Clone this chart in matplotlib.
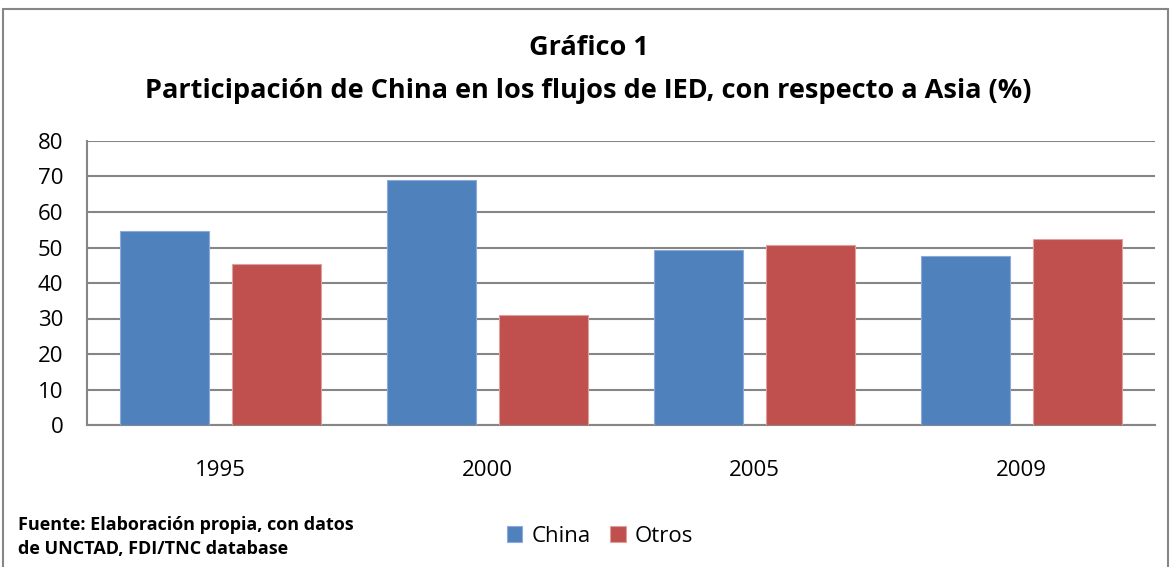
import matplotlib.pyplot as plt
import numpy as np
from matplotlib.patches import Rectangle

years = ["1995", "2000", "2005", "2009"]
china = [54.6, 69.0, 49.2, 47.6]
otros = [45.4, 31.0, 50.8, 52.4]
y_ticks = [0, 10, 20, 30, 40, 50, 60, 70, 80]

BLUE = "#4F81BD"
RED = "#C0504D"
GRID = "#868686"

plt.rcParams['font.family'] = ['Open Sans', 'DejaVu Sans']

fig = plt.figure(figsize=(11.7, 5.67), dpi=100)
ax = fig.add_axes([87 / 1170, 1 - 425 / 567, (1155 - 87) / 1170, (425 - 141) / 567])

x = np.arange(len(years))
w = 0.333
ax.bar(x - 0.21, china, w, color=BLUE, edgecolor="#8EAADB", linewidth=0.8, label="China", zorder=3)
ax.bar(x + 0.21, otros, w, color=RED, edgecolor="#E0A09E", linewidth=0.8, label="Otros", zorder=3)

ax.set_xlim(-0.5, len(years) - 0.5)
ax.set_ylim(0, 80)
ax.set_yticks(y_ticks)
ax.set_xticks(x)
ax.set_xticklabels(years)
ax.yaxis.grid(True, color=GRID, linewidth=1.5, zorder=0)
ax.tick_params(axis="both", length=0, labelsize=16)
ax.tick_params(axis="x", pad=25)
ax.tick_params(axis="y", pad=17)
for s in ["top", "right"]:
    ax.spines[s].set_visible(False)
for s in ["left", "bottom"]:
    ax.spines[s].set_color(GRID)
    ax.spines[s].set_linewidth(1.5)

fig.text(0.503, 1 - 48 / 567, "Gráfico 1", ha="center", va="center", fontsize=19.5, fontweight="bold")
fig.text(0.503, 1 - 91 / 567, "Participación de China en los flujos de IED, con respecto a Asia (%)",
         ha="center", va="center", fontsize=19.5, fontweight="bold")

fig.text(18 / 1170, 1 - 537 / 567, "Fuente: Elaboración propia, con datos\nde UNCTAD, FDI/TNC database",
         ha="left", va="center", fontsize=13, fontweight="bold", linespacing=1.5)

fig.legend(loc="center", bbox_to_anchor=(600 / 1170, 1 - 536 / 567), ncol=2, frameon=False,
           fontsize=16, handlelength=0.7, handleheight=0.7, handletextpad=0.4, columnspacing=0.9)

fig.patches.append(Rectangle((3 / 1170, -0.05), 1165 / 1170, 1.05 - 9 / 567, transform=fig.transFigure,
                             fill=False, edgecolor="#868686", linewidth=1.5))

fig.savefig("out.png", dpi=100)
